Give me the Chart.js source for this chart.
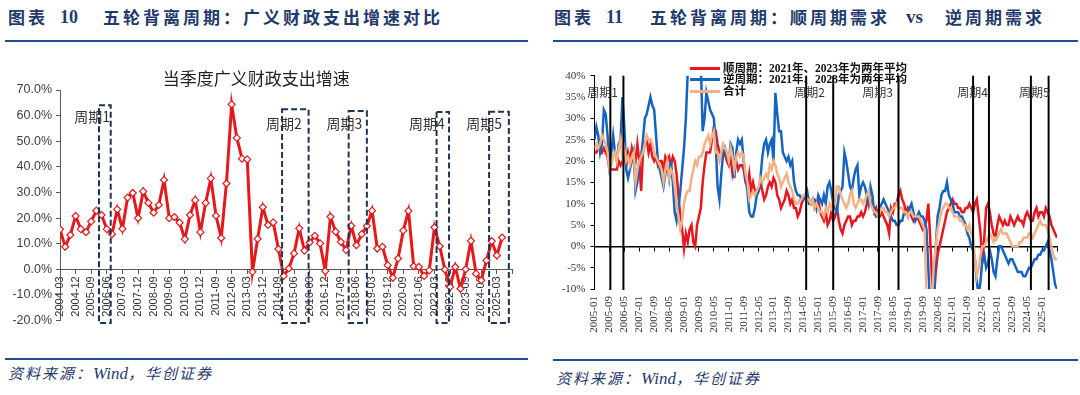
<!DOCTYPE html>
<html lang="zh-CN">
<head>
<meta charset="UTF-8">
<title>五轮背离周期</title>
<script src="https://cdn.jsdelivr.net/npm/chart.js@4.4.1/dist/chart.umd.min.js"></script>
<style>
    body { margin: 0; background: #fff; width: 1080px; height: 395px; position: relative; overflow: hidden; }
    .abs { position: absolute; white-space: nowrap; }
    .head { font-family: "Noto Sans CJK SC", sans-serif; font-weight: 700; font-size: 17px; line-height: 20px; color: #1f3a6b; letter-spacing: 3px; }
    .num { font-family: "Liberation Serif", serif; font-weight: 700; font-size: 18px; line-height: 20px; color: #1f3a6b; }
    .rule { position: absolute; height: 2px; background: #1f4e8c; }
    .foot { font-family: "Noto Sans CJK SC", sans-serif; font-style: italic; font-size: 15px; line-height: 20px; color: #1f3a6b; letter-spacing: 2px; }
    .foot span { font-family: "Liberation Serif", serif; font-size: 17px; letter-spacing: 0; }
    .lg { position: absolute; left: 690px; height: 12px; line-height: 12px; font-family: "Liberation Serif", "Noto Sans CJK SC", serif; font-weight: 700; font-size: 11.5px; color: #111; white-space: nowrap; }
    .lg i { display: inline-block; width: 30px; height: 2.5px; vertical-align: middle; margin-right: 3px; position: relative; top: -1px; }
    canvas { position: absolute; }
</style>
</head>
<body>

<!-- left panel heading -->
<div class="abs head" style="left:8px;top:7px;">图表</div>
<div class="abs num" style="left:60px;top:7px;">10</div>
<div class="abs head" style="left:103px;top:7px;">五轮背离周期：广义财政支出增速对比</div>
<div class="rule" style="left:5px;top:40px;width:523px;"></div>

<!-- right panel heading -->
<div class="abs head" style="left:554px;top:7px;">图表</div>
<div class="abs num" style="left:606px;top:7px;">11</div>
<div class="abs head" style="left:650px;top:7px;">五轮背离周期：顺周期需求</div>
<div class="abs num" style="left:906px;top:7px;font-size:19px;">vs</div>
<div class="abs head" style="left:945px;top:7px;">逆周期需求</div>
<div class="rule" style="left:553px;top:40px;width:525px;"></div>

<canvas id="leftChart" width="540" height="300" style="left:0;top:45px;"></canvas>
<canvas id="rightChart" width="535" height="300" style="left:545px;top:45px;"></canvas>

<!-- legend for right chart -->
<div class="lg" style="top:62px;"><i style="background:#e8171f"></i>顺周期：2021年、2023年为两年平均</div>
<div class="lg" style="top:73px;"><i style="background:#1565c0"></i>逆周期：2021年、2023年为两年平均</div>
<div class="lg" style="top:85px;"><i style="background:#f4b183"></i>合计</div>

<div class="rule" style="left:5px;top:358px;width:523px;"></div>
<div class="rule" style="left:553px;top:359px;width:525px;"></div>
<div class="abs foot" style="left:8px;top:363px;">资料来源：<span>Wind</span>，华创证券</div>
<div class="abs foot" style="left:556px;top:368px;">资料来源：<span>Wind</span>，华创证券</div>

<script>
    // ---- left chart: quarterly broad fiscal spending growth (%) ----
    const leftTickLabels = ['2004-03', '2004-12', '2005-09', '2006-06', '2007-03', '2007-12', '2008-09',
        '2009-06', '2010-03', '2010-12', '2011-09', '2012-06', '2013-03', '2013-12', '2014-09', '2015-06',
        '2016-03', '2016-12', '2017-09', '2018-06', '2019-03', '2019-12', '2020-09', '2021-06', '2022-03',
        '2022-12', '2023-09', '2024-06', '2025-03'];

    // one value per quarter, 2004-03 .. 2025-06
    const fiscalGrowth = [
        15.6, 8.8, 13.4, 20.8, 15.7, 14.5, 18.7, 22.9, 21.2, 15.7,
        13.7, 23.4, 15.8, 28.0, 29.8, 20.0, 30.4, 25.9, 22.1, 25.1,
        34.9, 20.0, 20.4, 18.2, 11.8, 21.2, 27.0, 14.5, 25.9, 35.5,
        20.9, 12.2, 33.5, 64.4, 51.3, 43.2, 42.9, -1.0, 11.9, 24.2,
        17.3, 18.3, 7.9, -2.6, 0.3, 6.2, 16.0, 7.3, 10.5, 13.1,
        10.1, -0.7, 20.5, 14.7, 10.7, 7.5, 17.0, 9.4, 13.7, 16.9,
        22.9, 8.1, 8.8, 1.6, -3.3, 4.2, 15.1, 22.8, 1.2, 0.9,
        -2.6, -0.4, 16.4, 9.0, -0.1, -6.9, 0.9, -7.6, 0.0, 11.1,
        -1.7, -4.3, 3.5, 11.0, 5.4, 12.4
    ];

    // cycle windows in quarter-index units [start, end, top %]
    const leftCycleBoxes = [[7.5, 9.75, 64], [42.7, 47.8, 62.5], [55.5, 59, 61.8], [72.4, 74.8, 61.4], [82.5, 86.3, 61.5]];
    const leftCycleNames = ['周期1', '周期2', '周期3', '周期4', '周期5'];
    const leftNameAnchors = [[9.6, 59.5], [46.5, 57], [58.1, 57], [74.0, 57], [85.0, 57]];

    // ---- right chart: monthly pro-cyclical vs counter-cyclical demand (%) ----
    const rightTickLabels = ['2005-01', '2005-09', '2006-05', '2007-01', '2007-09', '2008-05', '2009-01',
        '2009-09', '2010-05', '2011-01', '2011-09', '2012-05', '2013-01', '2013-09', '2014-05', '2015-01',
        '2015-09', '2016-05', '2017-01', '2017-09', '2018-05', '2019-01', '2019-09', '2020-05', '2021-01',
        '2021-09', '2022-05', '2023-01', '2023-09', '2024-05', '2025-01'];

    // one row per year, 2005-01 .. 2025-09
    const proCyclical = [
        22, 22, 23, 23, 22, 23, 22, 21, 18, 18, 18, 18,
        18, 20, 19, 20, 21, 19, 22, 20, 23, 21, 20, 24,
        20, 13, 22, 24, 25, 22, 24, 21, 20, 21, 19, 20,
        20, 18, 21, 20, 21, 19, 21, 20, 17, 12, 7, 4,
        -0.5, 3, 1, 4, 5, 1, 0, 5, 7, 9, 15, 19,
        22, 22, 22, 25, 28, 27, 24, 22, 22, 21, 22, 20,
        19, 21, 17, 19, 20, 18, 19, 19, 18, 15, 14, 17,
        13, 15, 13, 12, 13, 15, 13, 11, 12, 14, 15, 14,
        16, 15, 12, 11, 9, 10, 11, 13, 12, 10, 11, 9,
        9, 7, 8, 10, 11, 12, 12, 11, 10, 11, 9, 10,
        11, 8, 7, 6, 8, 5, 6, 8, 6, 7, 9, 6,
        4, 3, 5, 6, 7, 7, 5, 6, 6, 7, 7, 8,
        7, 8, 10, 12, 11, 10, 8, 9, 7, 7, 8, 7,
        6, 5, 3, 9, 8, 10, 10, 12, 13, 11, 10, 8,
        9, 8, 7, 6, 7, 7, 6, 5, 4, 5, 6, 10,
        2, -8, -12, -6, -2, 0, 2, 4, 6, 8, 9, 10,
        11, 10, 10, 9, 9, 8, 8, 9, 9, 10, 9, 8,
        10, 11, 7, 3, -4, 2, 9, 10, 8, 5, 3, 2,
        5, 7, 6, 5, 6, 5, 5, 7, 6, 5, 6, 7,
        6, 6, 5, 7, 8, 7, 6, 6, 8, 9, 7, 8,
        8, 7, 9, 8, 7, 5, 4, 3, 2
    ];
    const counterCyclical = [
        25, 28, 26, 22, 24, 32, 31, 26, 19, 22, 26, 22,
        20, 24, 25, 35, 28, 18, 16, 18, 20, 22, 13, 15,
        20, 21, 25, 30, 31, 33, 35, 33, 32, 26, 20, 18,
        16, 14, 17, 19, 16, 20, 15, 8, 6, 9, 13, 18,
        23, 30, 41, 48, 54, 55, 52, 48, 45, 43, 27, 30,
        36, 34, 32, 31, 30, 24, 14, 11, 17, 22, 23, 21,
        20, 24, 23, 16, 22, 25, 24, 25, 20, 16, 13, 8,
        7, 7, 9, 12, 13, 16, 21, 24, 25, 22, 24, 25,
        20, 36, 31, 27, 27, 22, 21, 20, 21, 19, 20, 15,
        13, 12, 12, 11, 11, 12, 13, 10, 10, 11, 11, 9,
        12, 11, 10, 12, 10, 14, 15, 13, 10, 9, 8, 12,
        13, 14, 22, 20, 17, 14, 13, 16, 18, 19, 12, 14,
        15, 14, 12, 10, 14, 12, 8, 7, 7, 9, 10, 11,
        10, 9, 8, 7, 6, 6, 5, 5, 6, 6, 8, 8,
        7, 9, 10, 8, 6, 7, 8, 7, 7, 6, 4, -5,
        -15, -20, -12, 0, 7, 9, 12, 13, 13, 15, 12, 11,
        10, 8, 8, 8, 7, 7, 6, 5, 3, 2, 0, -1,
        -3, -8, -12, -8, -3, -2, -5, -4, -1, -3, -6, -7,
        -3, 0, 0, -1, -2, -3, -4, -3, -3, -4, -5, -6,
        -6, -6, -7, -7, -6, -5, -5, -4, -3, -3, -2, -2,
        -1, -1, 0, 1, -1, -3, -6, -9, -10
    ];
    const totalDemand = [
        23, 24, 23, 24, 26, 25, 24, 22, 18, 19, 21, 22,
        20, 23, 25, 21, 23, 20, 21, 19, 21, 22, 15, 18,
        20, 21, 22, 24, 26, 25, 25, 24, 22, 21, 20, 19,
        18, 15, 18, 20, 16, 18, 17, 14, 10, 7, 4, 6,
        10, 12, 13, 13, 16, 18, 20, 19, 21, 21, 22, 24,
        25, 26, 24, 26, 27, 22, 22, 20, 22, 24, 23, 22,
        20, 23, 21, 18, 21, 22, 21, 22, 21, 17, 15, 11,
        12, 13, 12, 13, 14, 16, 15, 16, 17, 16, 19, 18,
        20, 19, 17, 16, 14, 15, 16, 17, 15, 14, 13, 11,
        10, 10, 11, 11, 12, 12, 11, 11, 10, 11, 9, 10,
        9, 8, 8, 7, 9, 8, 10, 9, 11, 10, 14, 14,
        12, 11, 10, 9, 10, 12, 13, 10, 9, 10, 11, 11,
        10, 11, 12, 13, 10, 9, 8, 8, 7, 8, 9, 9,
        8, 8, 7, 8, 9, 9, 10, 9, 9, 9, 8, 8,
        7, 8, 8, 7, 7, 7, 7, 6, 5, 4, -12, -15,
        -14, -12, -4, 0, 4, 6, 8, 9, 10, 10, 9, 9,
        8, 7, 7, 7, 6, 6, 5, 5, 4, 5, 3, 2,
        -3, -7, -5, -2, 0, 0, 1, 2, 3, 2, 1, 2,
        2, 3, 4, 3, 3, 3, 2, 1, 0, 0, 0, 0,
        1, 1, 2, 2, 2, 3, 3, 2, 3, 4, 5, 6,
        5, 5, 5, 4, 2, 0, -2, -3, -3
    ];

    // vertical cycle markers in month-index units
    const rightCycleLines = [8.5, 15.5, 113.5, 128, 152.5, 163, 203, 211.5, 234, 243.5];
    const rightCycleNames = ['周期1', '周期2', '周期3', '周期4', '周期5'];
    const rightNameAnchors = [[12.6, 36], [123.5, 36], [160, 36], [211, 36], [244, 36]];

    const toXY = arr => arr.map((v, i) => ({x: i, y: v}));

    const leftDecor = {
        id: 'leftDecor',
        afterDatasetsDraw(chart) {
            const {ctx, scales: {x, y}} = chart;
            ctx.save();
            ctx.strokeStyle = '#1f3350';
            ctx.lineWidth = 2;
            ctx.setLineDash([6, 3]);
            leftCycleBoxes.forEach(b => {
                const x0 = x.getPixelForValue(b[0]);
                const x1 = x.getPixelForValue(b[1]);
                const y0 = y.getPixelForValue(b[2]);
                const y1 = y.getPixelForValue(-21);
                ctx.strokeRect(x0, y0, x1 - x0, y1 - y0);
            });
            ctx.setLineDash([]);
            ctx.fillStyle = '#333';
            ctx.font = '14px "Noto Sans CJK SC", sans-serif';
            ctx.textAlign = 'right';
            ctx.textBaseline = 'middle';
            leftCycleNames.forEach((n, i) => {
                ctx.fillText(n, x.getPixelForValue(leftNameAnchors[i][0]), y.getPixelForValue(leftNameAnchors[i][1]));
            });
            ctx.restore();
        }
    };

    const rightDecor = {
        id: 'rightDecor',
        afterDatasetsDraw(chart) {
            const {ctx, chartArea, scales: {x, y}} = chart;
            ctx.save();
            ctx.strokeStyle = '#000';
            ctx.lineWidth = 2;
            rightCycleLines.forEach(m => {
                const px = x.getPixelForValue(m);
                ctx.beginPath();
                ctx.moveTo(px, chartArea.top);
                ctx.lineTo(px, chartArea.bottom + 1);
                ctx.stroke();
            });
            ctx.fillStyle = '#333';
            ctx.font = '12px "Noto Sans CJK SC", sans-serif';
            ctx.textAlign = 'right';
            ctx.textBaseline = 'middle';
            rightCycleNames.forEach((n, i) => {
                ctx.fillText(n, x.getPixelForValue(rightNameAnchors[i][0]), y.getPixelForValue(rightNameAnchors[i][1]));
            });
            ctx.restore();
        }
    };

    new Chart(document.getElementById('leftChart'), {
        type: 'line',
        data: {
            datasets: [{
                label: '当季度广义财政支出增速',
                data: toXY(fiscalGrowth),
                borderColor: '#e3191c',
                borderWidth: 3,
                pointStyle: 'rectRot',
                pointRadius: 3.5,
                pointBackgroundColor: '#fff',
                pointBorderColor: '#e3191c',
                pointBorderWidth: 1.2,
                tension: 0
            }]
        },
        options: {
            responsive: false,
            animation: false,
            devicePixelRatio: 1,
            layout: {padding: {left: 0, right: 27.5, top: 0, bottom: 24.5}},
            scales: {
                x: {
                    type: 'linear',
                    min: 0,
                    max: 87,
                    position: {y: 0},
                    afterFit: s => { s.height = 0; },
                    border: {display: true, color: '#595959', width: 1},
                    grid: {drawOnChartArea: false, drawTicks: true, tickLength: 4, color: '#595959'},
                    ticks: {
                        stepSize: 3,
                        autoSkip: false,
                        minRotation: 90,
                        maxRotation: 90,
                        padding: 3,
                        color: '#333',
                        font: {family: 'Liberation Sans', size: 11},
                        callback: v => leftTickLabels[v / 3] || ''
                    }
                },
                y: {
                    min: -20,
                    max: 70,
                    afterFit: s => { s.width = 60; },
                    border: {display: true, color: '#595959', width: 1},
                    grid: {drawOnChartArea: false, drawTicks: true, tickLength: 4, color: '#595959'},
                    ticks: {
                        stepSize: 10,
                        padding: 4,
                        color: '#404040',
                        font: {family: 'Liberation Sans', size: 12.5},
                        callback: v => v.toFixed(1) + '%'
                    }
                }
            },
            plugins: {
                legend: {display: false},
                tooltip: {enabled: false},
                title: {
                    display: true,
                    text: '当季度广义财政支出增速',
                    color: '#222',
                    font: {family: 'Noto Sans CJK SC', size: 17, weight: 'normal'},
                    padding: {top: 23, bottom: 1.6}
                }
            }
        },
        plugins: [leftDecor]
    });

    const lineSet = (label, arr, color, order) => ({
        label: label,
        data: toXY(arr),
        borderColor: color,
        borderWidth: 2.5,
        pointRadius: 0,
        tension: 0,
        order: order
    });

    new Chart(document.getElementById('rightChart'), {
        type: 'line',
        data: {
            datasets: [
                lineSet('顺周期：2021年、2023年为两年平均', proCyclical, '#e8171f', 3),
                lineSet('逆周期：2021年、2023年为两年平均', counterCyclical, '#1565c0', 2),
                lineSet('合计', totalDemand, '#f4b183', 1)
            ]
        },
        options: {
            responsive: false,
            animation: false,
            devicePixelRatio: 1,
            layout: {padding: {left: 0, right: 23, top: 30.7, bottom: 0}},
            scales: {
                x: {
                    type: 'linear',
                    min: 0,
                    max: 248,
                    position: 'bottom',
                    afterFit: s => { s.height = 56; },
                    border: {display: false},
                    grid: {display: false, drawTicks: false},
                    ticks: {
                        stepSize: 8,
                        autoSkip: false,
                        minRotation: 90,
                        maxRotation: 90,
                        padding: 7,
                        color: '#333',
                        font: {family: 'Liberation Serif', size: 11},
                        callback: v => rightTickLabels[v / 8] || ''
                    }
                },
                x2: {
                    type: 'linear',
                    axis: 'x',
                    min: 0,
                    max: 248,
                    position: {y: 0},
                    afterFit: s => { s.height = 0; },
                    border: {display: true, color: '#000', width: 1.5},
                    grid: {drawOnChartArea: false, drawTicks: true, tickLength: 4, color: '#000'},
                    ticks: {stepSize: 8, autoSkip: false, display: false}
                },
                y: {
                    min: -10,
                    max: 40,
                    afterFit: s => { s.width = 49.5; },
                    border: {display: true, color: '#000', width: 1},
                    grid: {drawOnChartArea: false, drawTicks: true, tickLength: 4, color: '#000'},
                    ticks: {
                        stepSize: 5,
                        padding: 5,
                        color: '#333',
                        font: {family: 'Liberation Serif', size: 11},
                        callback: v => v + '%'
                    }
                }
            },
            plugins: {
                legend: {display: false},
                tooltip: {enabled: false}
            }
        },
        plugins: [rightDecor]
    });
</script>
</body>
</html>
